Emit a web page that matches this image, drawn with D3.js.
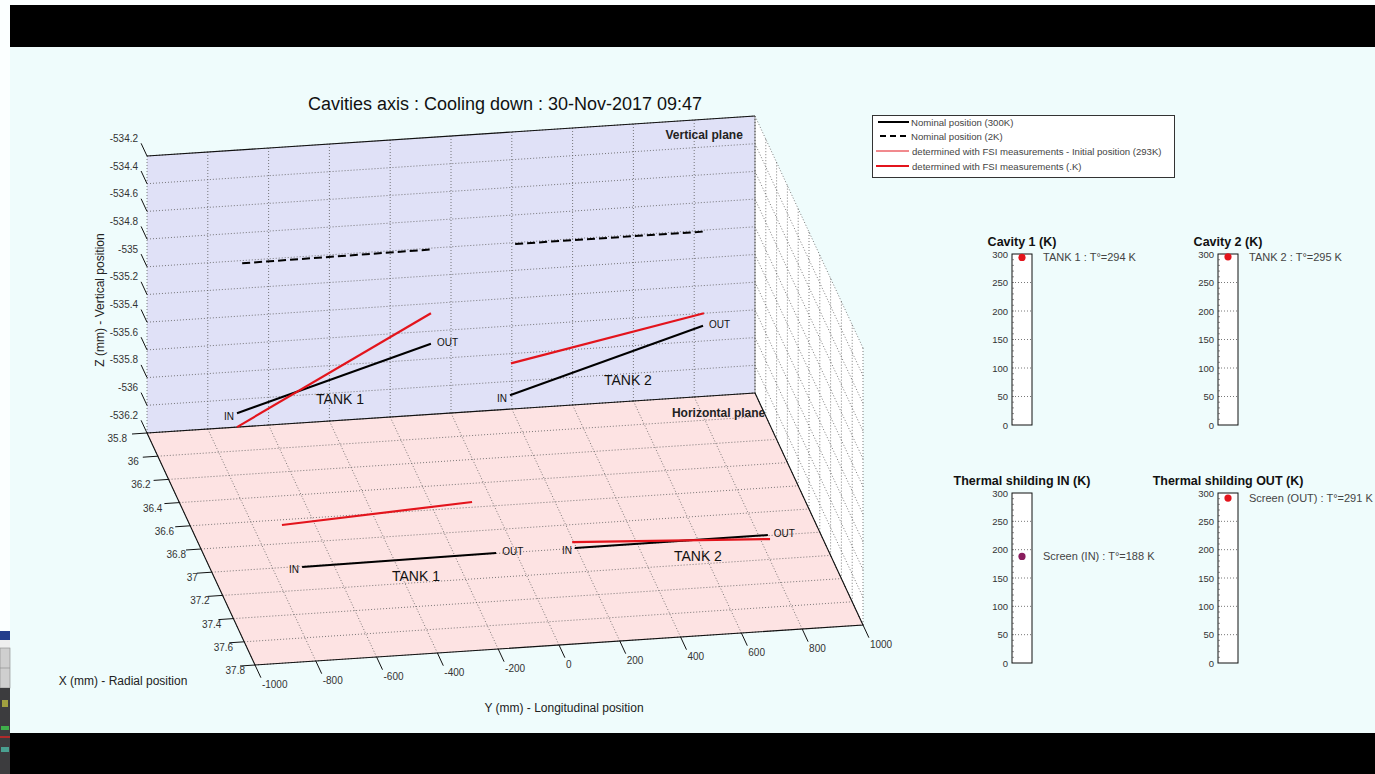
<!DOCTYPE html>
<html>
<head>
<meta charset="utf-8">
<script src="https://cdn.jsdelivr.net/npm/d3@7"></script>
<style>
  html, body { margin: 0; padding: 0; background: #ffffff; }
  svg { display: block; font-family: Arial, "Liberation Sans", sans-serif; }
</style>
</head>
<body>
<svg id="fig" width="1375" height="774"></svg>
<script>
// ---------- Axis ticks ----------
const yTicks = [-1000, -800, -600, -400, -200, 0, 200, 400, 600, 800, 1000];
const xTicks = [35.8, 36, 36.2, 36.4, 36.6, 36.8, 37, 37.2, 37.4, 37.6, 37.8];
const zTicks = [-536.2, -536, -535.8, -535.6, -535.4, -535.2, -535, -534.8, -534.6, -534.4, -534.2];
const yTickLabels = ["-1000", "-800", "-600", "-400", "-200", "0", "200", "400", "600", "800", "1000"];
const xTickLabels = ["35.8", "36", "36.2", "36.4", "36.6", "36.8", "37", "37.2", "37.4", "37.6", "37.8"];
const zTickLabels = ["-536.2", "-536", "-535.8", "-535.6", "-535.4", "-535.2", "-535", "-534.8", "-534.6", "-534.4", "-534.2"];

// ---------- Cavity axes (one entry per tank) ----------
const tankNames = ["TANK 1", "TANK 2"];
// Vertical plane: longitudinal Y [IN, OUT] and vertical Z [IN, OUT]
const nominal300Y = [[-704, -66], [194, 829]];
const nominal300Z = [[-536.10, -535.69], [-536.10, -535.69]];
const nominal2KY  = [[-687, -62], [211, 829]];
const nominal2KZ  = [[-535.02, -535.01], [-535.01, -535.01]];
const fsiVY       = [[-704, -66], [197, 832]];
const fsiVZ       = [[-536.20, -535.47], [-535.87, -535.60]];
// Horizontal plane: longitudinal Y [IN, OUT] and radial X [IN, OUT]
const nominal300HY = [[-704, -64], [195, 830]];
const nominal300X  = [[37.006, 36.996], [36.997, 36.995]];
const fsiHY        = [[-706, -65], [195, 831]];
const fsiHX        = [[36.644, 36.556], [36.946, 37.03]];
// Tank name anchors
const tankLabelVY = [-365, 582];
const tankLabelVZ = [-536.046, -536.046];
const tankLabelHY = [-354, 576];
const tankLabelHX = [37.144, 37.13];

// ---------- Temperature gauges ----------
const gaugeTitles = ["Cavity 1 (K)", "Cavity 2 (K)", "Thermal shilding IN (K)", "Thermal shilding OUT (K)"];
const gaugeNames  = ["TANK 1", "TANK 2", "Screen (IN)", "Screen (OUT)"];
const gaugeValues = [294, 295, 188, 291];
const gaugeTicks  = [0, 50, 100, 150, 200, 250, 300];

// ---------- Legend ----------
const legendLabels = [
  "Nominal position (300K)",
  "Nominal position (2K)",
  "determined with FSI measurements - Initial position (293K)",
  "determined with FSI measurements (.K)"
];

const svg = d3.select("#fig");
const RED = "#e3141c";

// ---------- Screen frame ----------
svg.append("rect").attr("x", 0).attr("y", 0).attr("width", 1375).attr("height", 774).attr("fill", "#fbffff");
svg.append("rect").attr("x", 10).attr("y", 47).attr("width", 1365).attr("height", 686).attr("fill", "#effcfc");
svg.append("rect").attr("x", 10).attr("y", 5).attr("width", 1365).attr("height", 42).attr("fill", "#000");
svg.append("rect").attr("x", 10).attr("y", 733).attr("width", 1365).attr("height", 41).attr("fill", "#000");
// neighbouring window sliver on the left edge
const sliver = svg.append("g");
sliver.append("rect").attr("x", 0).attr("y", 631).attr("width", 10).attr("height", 9).attr("fill", "#243e8c");
sliver.append("rect").attr("x", 0).attr("y", 640).attr("width", 10).attr("height", 8).attr("fill", "#eeeeee");
sliver.append("rect").attr("x", 0).attr("y", 648).attr("width", 10).attr("height", 40).attr("fill", "#cfcfcf").attr("stroke", "#888").attr("stroke-width", 0.6);
sliver.append("line").attr("x1", 0).attr("x2", 10).attr("y1", 668).attr("y2", 668).attr("stroke", "#888").attr("stroke-width", 0.6);
sliver.append("rect").attr("x", 0).attr("y", 688).attr("width", 10).attr("height", 86).attr("fill", "#3c3c3e");
sliver.append("rect").attr("x", 2).attr("y", 700).attr("width", 6).attr("height", 7).attr("fill", "#a0a040");
sliver.append("rect").attr("x", 1).attr("y", 726).attr("width", 8).attr("height", 4).attr("fill", "#3fae4a");
sliver.append("rect").attr("x", 0).attr("y", 736).attr("width", 10).attr("height", 2).attr("fill", "#b02a2a");
sliver.append("rect").attr("x", 1).attr("y", 747).attr("width", 8).attr("height", 5).attr("fill", "#4aa090");

// ---------- 3D orthographic projection ----------
const yS = d3.scaleLinear().domain([-1000, 1000]).range([0, 1]);
const xS = d3.scaleLinear().domain([35.8, 37.8]).range([0, 1]);
const zS = d3.scaleLinear().domain([-536.2, -534.2]).range([0, 1]);
const O = [147, 433], EU = [608, -40], EV = [108, 232], EW = [0, -277];
function proj(y, x, z) {
  const u = yS(y), v = xS(x), w = zS(z);
  return [O[0] + u * EU[0] + v * EV[0] + w * EW[0],
          O[1] + u * EU[1] + v * EV[1] + w * EW[1]];
}
const Y0 = -1000, Y1 = 1000, X0 = 35.8, X1 = 37.8, Z0 = -536.2, Z1 = -534.2;
const line = d3.line();
const g3 = svg.append("g");

// plane fills
g3.append("path").attr("d", line([proj(Y0, X0, Z0), proj(Y1, X0, Z0), proj(Y1, X0, Z1), proj(Y0, X0, Z1)]) + "Z")
  .attr("fill", "#e0e1f7");
g3.append("path").attr("d", line([proj(Y0, X0, Z0), proj(Y1, X0, Z0), proj(Y1, X1, Z0), proj(Y0, X1, Z0)]) + "Z")
  .attr("fill", "#fde3e3");
g3.append("path").attr("d", line([proj(Y1, X0, Z0), proj(Y1, X1, Z0), proj(Y1, X1, Z1), proj(Y1, X0, Z1)]) + "Z")
  .attr("fill", "#ffffff");

// dotted grid
const grid = g3.append("g").attr("fill", "none").attr("stroke", "#5a5a5a")
  .attr("stroke-width", 0.8).attr("stroke-dasharray", "1,2");
zTicks.forEach(z => {
  grid.append("path").attr("d", line([proj(Y0, X0, z), proj(Y1, X0, z)]));
  grid.append("path").attr("d", line([proj(Y1, X0, z), proj(Y1, X1, z)]));
});
yTicks.forEach(y => {
  grid.append("path").attr("d", line([proj(y, X0, Z0), proj(y, X0, Z1)]));
  grid.append("path").attr("d", line([proj(y, X0, Z0), proj(y, X1, Z0)]));
});
xTicks.forEach(x => {
  grid.append("path").attr("d", line([proj(Y0, x, Z0), proj(Y1, x, Z0)]));
  grid.append("path").attr("d", line([proj(Y1, x, Z0), proj(Y1, x, Z1)]));
});

// box edges
const edges = g3.append("g").attr("fill", "none").attr("stroke", "#111").attr("stroke-width", 1.1);
edges.append("path").attr("d", line([proj(Y0, X0, Z1), proj(Y1, X0, Z1)]));
edges.append("path").attr("d", line([proj(Y0, X0, Z0), proj(Y1, X0, Z0)]));
edges.append("path").attr("d", line([proj(Y0, X0, Z0), proj(Y0, X1, Z0), proj(Y1, X1, Z0), proj(Y1, X0, Z0)]));
g3.append("path").attr("d", line([proj(Y1, X0, Z0), proj(Y1, X0, Z1)]))
  .attr("stroke", "#777").attr("stroke-width", 0.8).attr("fill", "none");

// ---------- Ticks & tick labels ----------
const tickG = g3.append("g").attr("stroke", "#111").attr("stroke-width", 1);
const labG = g3.append("g").attr("font-size", 10).attr("fill", "#333");
const TL = 14;
const evLen = Math.hypot(EV[0], EV[1]);
const evN = [EV[0] / evLen, EV[1] / evLen];
// Z ticks (along -X direction at left edge of vertical plane)
zTicks.forEach((z, i) => {
  const p = proj(Y0, X0, z);
  const q = [p[0] - evN[0] * TL, p[1] - evN[1] * TL];
  tickG.append("line").attr("x1", p[0]).attr("y1", p[1]).attr("x2", q[0]).attr("y2", q[1]);
  labG.append("text").attr("x", q[0] - 3).attr("y", q[1] - 1.5).attr("text-anchor", "end")
    .text(zTickLabels[i]);
});
// X ticks (along -Y direction at left edge of horizontal plane)
xTicks.forEach((x, i) => {
  const p = proj(Y0, x, Z0);
  const q = [p[0] - 15, p[1] + 1];
  tickG.append("line").attr("x1", p[0]).attr("y1", p[1]).attr("x2", q[0]).attr("y2", q[1]);
  labG.append("text").attr("x", q[0] - 5 + 10 * xS(x)).attr("y", q[1] + 8).attr("text-anchor", "end")
    .text(xTickLabels[i]);
});
// Y ticks (along +X direction at front edge of horizontal plane)
yTicks.forEach((y, i) => {
  const p = proj(y, X1, Z0);
  const q = [p[0] + evN[0] * TL, p[1] + evN[1] * TL];
  tickG.append("line").attr("x1", p[0]).attr("y1", p[1]).attr("x2", q[0]).attr("y2", q[1]);
  labG.append("text").attr("x", q[0] + 1).attr("y", q[1] + 10).attr("text-anchor", "start")
    .text(yTickLabels[i]);
});

// axis titles
svg.append("text").attr("transform", "translate(104,300) rotate(-90)").attr("text-anchor", "middle")
  .attr("font-size", 12).attr("fill", "#222").text("Z (mm) - Vertical position");
svg.append("text").attr("x", 123).attr("y", 685).attr("text-anchor", "middle")
  .attr("font-size", 12).attr("fill", "#222").text("X (mm) - Radial position");
svg.append("text").attr("x", 564).attr("y", 712).attr("text-anchor", "middle")
  .attr("font-size", 12).attr("fill", "#222").text("Y (mm) - Longitudinal position");
svg.append("text").attr("x", 505).attr("y", 110).attr("text-anchor", "middle")
  .attr("font-size", 18).attr("fill", "#111").text("Cavities axis : Cooling down : 30-Nov-2017 09:47");

// plane names
const pv = proj(960, X0, -534.36);
svg.append("text").attr("x", pv[0]).attr("y", pv[1]).attr("text-anchor", "end")
  .attr("font-size", 12).attr("font-weight", "bold").attr("fill", "#222").text("Vertical plane");
const ph = proj(Y1, 35.99, Z0);
svg.append("text").attr("x", ph[0]).attr("y", ph[1] + 2).attr("text-anchor", "end")
  .attr("font-size", 12).attr("font-weight", "bold").attr("fill", "#222").text("Horizontal plane");

// ---------- Cavity axes ----------
const dataG = svg.append("g").attr("fill", "none").attr("stroke-linecap", "butt");
function seg(p0, p1, color, width, dash) {
  const s = dataG.append("path").attr("d", line([p0, p1])).attr("stroke", color).attr("stroke-width", width);
  if (dash) s.attr("stroke-dasharray", dash);
  return s;
}
const txtG = svg.append("g").attr("fill", "#111");
function inOut(p0, p1) {
  txtG.append("text").attr("x", p0[0] - 3).attr("y", p0[1] + 6.5).attr("text-anchor", "end")
    .attr("font-size", 10).text("IN");
  txtG.append("text").attr("x", p1[0] + 6).attr("y", p1[1] + 2).attr("text-anchor", "start")
    .attr("font-size", 10).text("OUT");
}
tankNames.forEach((name, i) => {
  // vertical plane
  const a0 = proj(nominal300Y[i][0], X0, nominal300Z[i][0]);
  const a1 = proj(nominal300Y[i][1], X0, nominal300Z[i][1]);
  seg(a0, a1, "#000", 2);
  seg(proj(nominal2KY[i][0], X0, nominal2KZ[i][0]), proj(nominal2KY[i][1], X0, nominal2KZ[i][1]), "#000", 2, "8,4");
  seg(proj(fsiVY[i][0], X0, fsiVZ[i][0]), proj(fsiVY[i][1], X0, fsiVZ[i][1]), RED, 2.2);
  inOut(a0, a1);
  const tv = proj(tankLabelVY[i], X0, tankLabelVZ[i]);
  txtG.append("text").attr("x", tv[0]).attr("y", tv[1] + 5).attr("text-anchor", "middle")
    .attr("font-size", 14).text(name);
  // horizontal plane
  const b0 = proj(nominal300HY[i][0], nominal300X[i][0], Z0);
  const b1 = proj(nominal300HY[i][1], nominal300X[i][1], Z0);
  seg(b0, b1, "#000", 2);
  seg(proj(fsiHY[i][0], fsiHX[i][0], Z0), proj(fsiHY[i][1], fsiHX[i][1], Z0), RED, 2.2);
  inOut(b0, b1);
  const th = proj(tankLabelHY[i], tankLabelHX[i], Z0);
  txtG.append("text").attr("x", th[0]).attr("y", th[1] + 5).attr("text-anchor", "middle")
    .attr("font-size", 14).text(name);
});

// ---------- Legend ----------
const lg = svg.append("g");
lg.append("rect").attr("x", 872.5).attr("y", 115.5).attr("width", 302).attr("height", 62)
  .attr("fill", "#ffffff").attr("stroke", "#333").attr("stroke-width", 1);
const legRows = [122, 136, 151, 166];
const legStyles = [
  { c: "#000", w: 2, d: null, x0: 878, x1: 909 },
  { c: "#000", w: 2, d: "6,4", x0: 880, x1: 909 },
  { c: RED, w: 1, d: null, x0: 876, x1: 909 },
  { c: RED, w: 2.2, d: null, x0: 876, x1: 909 }
];
legendLabels.forEach((t, i) => {
  const s = legStyles[i];
  const l = lg.append("line").attr("x1", s.x0).attr("x2", s.x1).attr("y1", legRows[i]).attr("y2", legRows[i])
    .attr("stroke", s.c).attr("stroke-width", s.w);
  if (s.d) l.attr("stroke-dasharray", s.d);
  lg.append("text").attr("x", i < 2 ? 911 : 912).attr("y", legRows[i] + 3.5).attr("font-size", 9.6)
    .attr("fill", "#444").text(t);
});

// ---------- Temperature gauges ----------
const gaugeBox = [
  { x: 1012, top: 254, bottom: 425, dot: RED },
  { x: 1218, top: 254, bottom: 425, dot: RED },
  { x: 1012, top: 493, bottom: 663, dot: "#8a1d5e" },
  { x: 1218, top: 493, bottom: 663, dot: RED }
];
const GW = 20;
gaugeTitles.forEach((title, i) => {
  const b = gaugeBox[i];
  const sc = d3.scaleLinear().domain([0, 300]).range([b.bottom, b.top]);
  const gg = svg.append("g");
  gg.append("rect").attr("x", b.x).attr("y", b.top).attr("width", GW).attr("height", b.bottom - b.top)
    .attr("fill", "#ffffff").attr("stroke", "#111").attr("stroke-width", 1);
  // dotted grid inside the gauge
  gaugeTicks.filter(t => t > 0 && t < 300).forEach(t => {
    gg.append("line").attr("x1", b.x).attr("x2", b.x + GW).attr("y1", sc(t)).attr("y2", sc(t))
      .attr("stroke", "#555").attr("stroke-width", 0.8).attr("stroke-dasharray", "1,2");
  });
  // minor ticks along the left border
  d3.range(10, 300, 10).forEach(t => {
    gg.append("line").attr("x1", b.x).attr("x2", b.x + 2).attr("y1", sc(t)).attr("y2", sc(t))
      .attr("stroke", "#444").attr("stroke-width", 0.6);
  });
  const ax = d3.axisLeft(sc).tickValues(gaugeTicks).tickSize(0).tickPadding(4);
  const axG = gg.append("g").attr("transform", `translate(${b.x},0)`).call(ax);
  axG.select(".domain").remove();
  axG.selectAll("text").attr("font-size", 9.5).attr("fill", "#333")
    .attr("font-family", "Arial, 'Liberation Sans', sans-serif");
  gg.append("text").attr("x", b.x + GW / 2).attr("y", b.top - 8).attr("text-anchor", "middle")
    .attr("font-size", 12.5).attr("font-weight", "bold").attr("fill", "#111").text(title);
  const v = gaugeValues[i];
  gg.append("circle").attr("cx", b.x + GW / 2).attr("cy", sc(v)).attr("r", 3.6).attr("fill", b.dot);
  gg.append("text").attr("x", b.x + GW + 11).attr("y", sc(v) + 4).attr("font-size", 11).attr("fill", "#444")
    .text(`${gaugeNames[i]} : T°=${v} K`);
});
</script>
</body>
</html>
